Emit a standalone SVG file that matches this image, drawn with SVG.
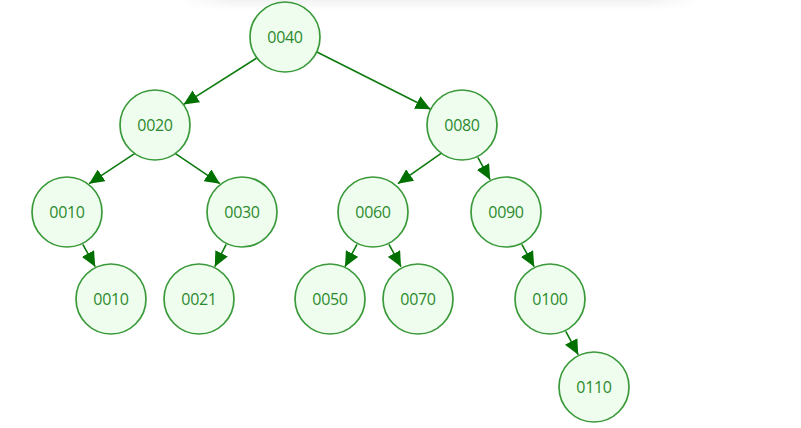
<svg xmlns="http://www.w3.org/2000/svg" width="801" height="428" viewBox="0 0 801 428">
<style>
.n circle{fill:#effdef;stroke:#3a9a3a;stroke-width:1.7}
.n text{font-family:"Open Sans","Noto Sans","Liberation Sans",sans-serif;font-size:16px;fill:#2c8a2c;text-anchor:middle;dominant-baseline:central;letter-spacing:-0.3px}
.e line{stroke:#0c7a0c;stroke-width:1.6;marker-end:url(#ah)}
</style>
<defs>
<marker id="ah" markerWidth="15" markerHeight="14" refX="15" refY="7" orient="auto" markerUnits="userSpaceOnUse">
<path d="M0,0 L15,7 L0,14 Z" fill="#007000"/>
</marker>
<linearGradient id="sh" x1="0" y1="0" x2="0" y2="1">
<stop offset="0" stop-color="#000" stop-opacity="0.05"/>
<stop offset="1" stop-color="#000" stop-opacity="0"/>
</linearGradient>
<linearGradient id="shx" x1="0" y1="0" x2="1" y2="0">
<stop offset="0" stop-color="#fff" stop-opacity="1"/>
<stop offset="0.1" stop-color="#fff" stop-opacity="0"/>
<stop offset="0.9" stop-color="#fff" stop-opacity="0"/>
<stop offset="1" stop-color="#fff" stop-opacity="1"/>
</linearGradient>
</defs>
<rect x="0" y="0" width="801" height="428" fill="#fff"/>
<rect x="180" y="0" width="520" height="10" fill="url(#sh)"/>
<rect x="180" y="0" width="520" height="10" fill="url(#shx)"/>
<g id="edges" class="e">
<line x1="257.4" y1="57.6" x2="183.6" y2="104.4"/>
<line x1="316.4" y1="51.7" x2="430.6" y2="109.3"/>
<line x1="134.9" y1="153.3" x2="89.1" y2="183.7"/>
<line x1="175.1" y1="153.3" x2="219.9" y2="183.7"/>
<line x1="441.1" y1="153.3" x2="397.9" y2="183.7"/>
<line x1="477.8" y1="157.3" x2="490.2" y2="179.7"/>
<line x1="82.8" y1="244.3" x2="95.2" y2="266.7"/>
<line x1="226.2" y1="244.3" x2="214.8" y2="266.7"/>
<line x1="357.0" y1="244.3" x2="345.0" y2="266.7"/>
<line x1="389.0" y1="244.3" x2="401.0" y2="266.7"/>
<line x1="521.8" y1="244.3" x2="534.2" y2="266.7"/>
<line x1="565.8" y1="331.3" x2="578.2" y2="354.7"/>
</g>
<g id="n0040" class="n"><circle cx="285" cy="37" r="35"/><text x="285" y="37">0040</text></g>
<g id="n0020" class="n"><circle cx="155" cy="125" r="35"/><text x="155" y="125">0020</text></g>
<g id="n0080" class="n"><circle cx="462" cy="125" r="35"/><text x="462" y="125">0080</text></g>
<g id="n0010a" class="n"><circle cx="67" cy="212" r="35"/><text x="67" y="212">0010</text></g>
<g id="n0030" class="n"><circle cx="242" cy="212" r="35"/><text x="242" y="212">0030</text></g>
<g id="n0060" class="n"><circle cx="373" cy="212" r="35"/><text x="373" y="212">0060</text></g>
<g id="n0090" class="n"><circle cx="506" cy="212" r="35"/><text x="506" y="212">0090</text></g>
<g id="n0010b" class="n"><circle cx="111" cy="299" r="35"/><text x="111" y="299">0010</text></g>
<g id="n0021" class="n"><circle cx="199" cy="299" r="35"/><text x="199" y="299">0021</text></g>
<g id="n0050" class="n"><circle cx="330" cy="299" r="35"/><text x="330" y="299">0050</text></g>
<g id="n0070" class="n"><circle cx="418" cy="299" r="35"/><text x="418" y="299">0070</text></g>
<g id="n0100" class="n"><circle cx="550" cy="299" r="35"/><text x="550" y="299">0100</text></g>
<g id="n0110" class="n"><circle cx="594" cy="387" r="35"/><text x="594" y="387">0110</text></g>
</svg>
